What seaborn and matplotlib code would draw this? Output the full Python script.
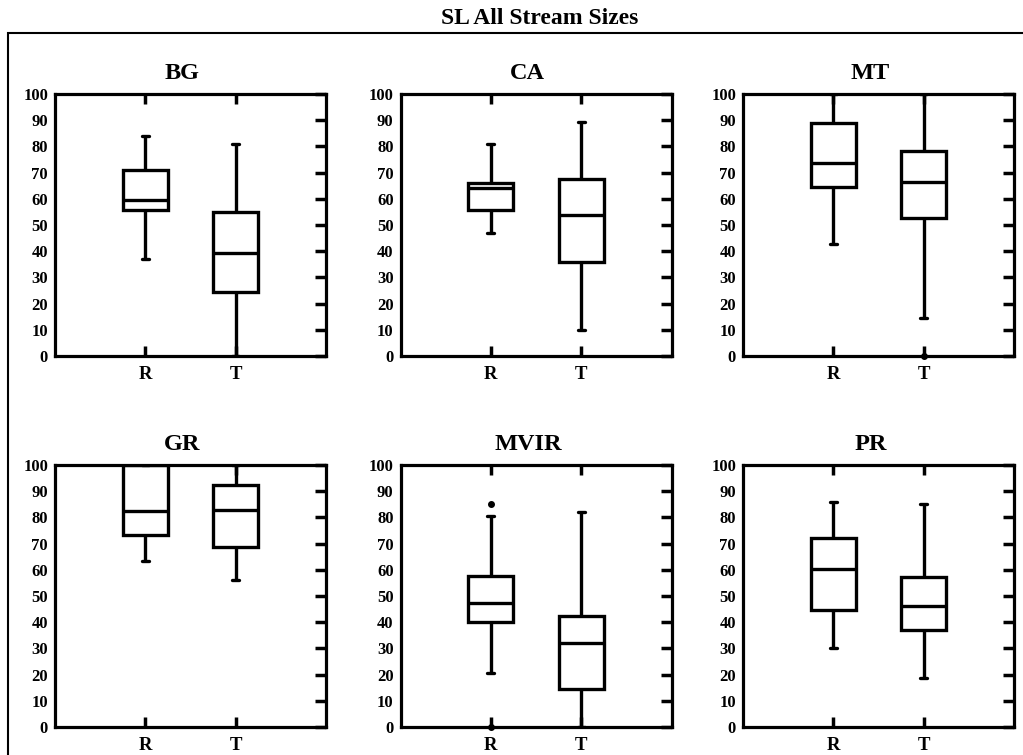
import pandas as pd
import matplotlib.pyplot as plt
import seaborn as sns
from matplotlib.patches import Rectangle

# panels in reading order
panels = ["BG", "CA", "MT", "GR", "MVIR", "PR"]
groups = ["R", "T"]

# box statistics, one list per group
whisker_low = {"R": [37, 47, 42.9, 63.2, 20.6, 30.3],
               "T": [0, 9.8, 14.5, 56.2, 0, 18.8]}
q1 = {"R": [55.7, 55.8, 64.6, 73.4, 40, 44.7],
      "T": [24.5, 35.9, 52.5, 68.7, 14.4, 37.2]}
median = {"R": [59.5, 64.2, 73.7, 82.6, 47.4, 60.3],
          "T": [39.3, 53.9, 66.3, 83.0, 32.2, 46.0]}
q3 = {"R": [71, 66, 89, 100, 57.6, 72.1],
      "T": [55, 67.6, 78.1, 92.2, 42.3, 57.1]}
whisker_high = {"R": [84, 80.9, 100, 100, 80.5, 85.8],
                "T": [81, 89.2, 100, 100, 82.2, 85.3]}
# outliers (panel, group): value
outliers_low = {("MT", "T"): 0, ("MVIR", "R"): 0}
outliers_high = {("MVIR", "R"): 85}

rows = []
for i, p in enumerate(panels):
    for g in groups:
        lo = whisker_low[g][i]
        hi = whisker_high[g][i]
        vals = [outliers_low.get((p, g), lo), lo, q1[g][i], q1[g][i],
                median[g][i], median[g][i], q3[g][i], hi,
                outliers_high.get((p, g), hi)]
        for v in vals:
            rows.append({"panel": p, "group": g, "value": v})
df = pd.DataFrame(rows)

sns.set_style("white")
plt.rcParams["font.family"] = ["Liberation Serif", "DejaVu Serif"]
plt.rcParams["font.weight"] = "bold"
plt.rcParams["text.color"] = "black"
plt.rcParams["xtick.color"] = "black"
plt.rcParams["ytick.color"] = "black"
plt.rcParams["axes.titlecolor"] = "black"

fig = plt.figure(figsize=(10.23, 7.55), dpi=100)
W, H = 1023.0, 755.0
lefts = [55, 400.5, 743]
tops = [94, 465]
aw, ah = 271, 262

for i, p in enumerate(panels):
    r, c = divmod(i, 3)
    ax = fig.add_axes([lefts[c] / W, (H - tops[r] - ah) / H, aw / W, ah / H])
    sns.boxplot(data=df[df["panel"] == p], x="group", y="value", order=groups,
                ax=ax, width=0.5, color="white", linecolor="black",
                linewidth=2.4, saturation=1, capwidths=0.08,
                flierprops={"marker": "o", "markersize": 4,
                            "markerfacecolor": "black",
                            "markeredgecolor": "black", "clip_on": False})
    ax.set_xlim(-1, 2)
    ax.set_ylim(0, 100)
    ax.set_yticks(range(0, 101, 10))
    ax.set_xticks([0, 1])
    ax.set_xticklabels(groups)
    ax.set_xlabel("")
    ax.set_ylabel("")
    ax.tick_params(axis="x", direction="in", top=True, bottom=True,
                   length=7, width=2.5, labelsize=13.5, pad=7,
                   colors="black")
    ax.tick_params(axis="y", direction="in", left=False, right=True,
                   length=8, width=2.5, labelsize=12, pad=5,
                   colors="black")
    for lab in ax.get_xticklabels() + ax.get_yticklabels():
        lab.set_fontweight("bold")
    for s in ax.spines.values():
        s.set_linewidth(2.3)
        s.set_color("black")
        s.set_visible(True)
    ax.set_title(p, fontsize=17.5, fontweight="bold", x=0.47, pad=11,
                 color="black")

fig.text(540 / W, 1 - 18 / H, "SL All Stream Sizes", ha="center",
         va="center", fontsize=17, fontweight="bold", color="black")
fig.patches.append(Rectangle((8 / W, -0.1), 1.2, (H - 33) / H + 0.1,
                             transform=fig.transFigure, fill=False,
                             edgecolor="black", linewidth=1.5))

fig.savefig("out.png", dpi=100)
